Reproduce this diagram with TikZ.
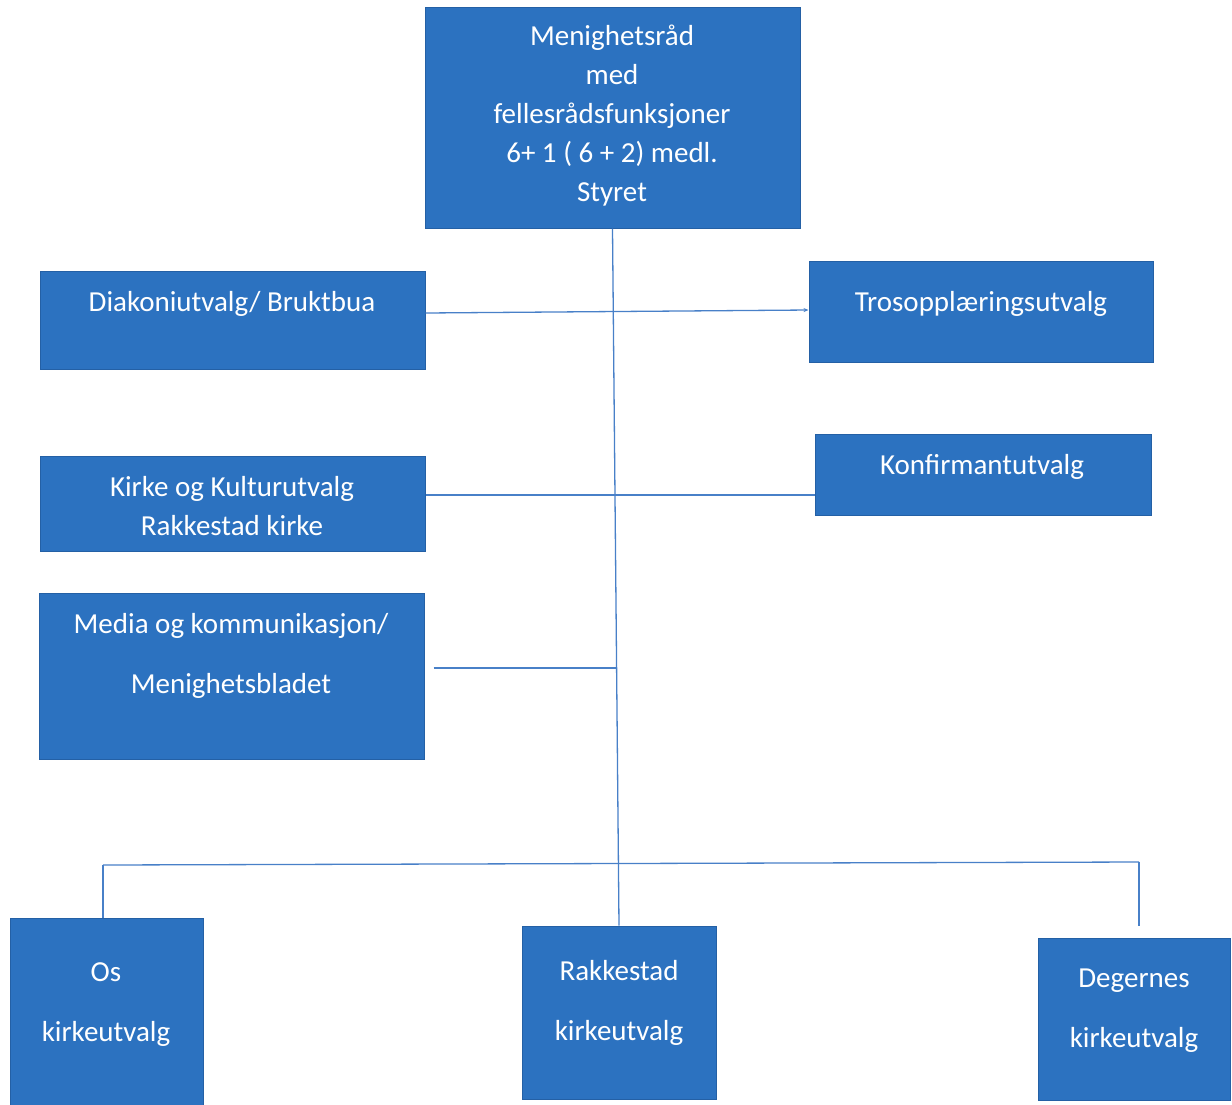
\documentclass[tikz,border=0pt]{standalone}
\usepackage{fontspec}
\setmainfont{Carlito}
\usetikzlibrary{arrows.meta}
\definecolor{boxblue}{RGB}{44,114,192}
\definecolor{boxedge}{RGB}{36,96,165}
\definecolor{linkblue}{RGB}{72,128,200}
\begin{document}
\begin{tikzpicture}[x=1pt,y=-1pt,
  box/.style={draw=boxedge,line width=1pt,fill=boxblue,rectangle,inner sep=0pt},
  txt/.style={text=white,align=center,inner sep=0pt,font=\fontsize{29}{39}\selectfont},
  txtwide/.style={text=white,align=center,inner sep=0pt,font=\fontsize{29}{60}\selectfont},
  conn/.style={draw=linkblue,line width=1.3pt}]
\useasboundingbox (0,0) rectangle (1232,1104);
% boxes
\node[box,minimum width=375,minimum height=221] (top) at (612.5,117.5) {};
\node[box,minimum width=385,minimum height=98] (diak) at (232.5,320) {};
\node[box,minimum width=344,minimum height=101] (tros) at (981,311.5) {};
\node[box,minimum width=385,minimum height=95] (kirke) at (232.5,503.5) {};
\node[box,minimum width=336,minimum height=81] (konf) at (983,474.5) {};
\node[box,minimum width=385,minimum height=166] (media) at (231.5,676) {};
\node[box,minimum width=193,minimum height=212] (os) at (106.5,1024) {};
\node[box,minimum width=194,minimum height=173] (rakk) at (619,1012.5) {};
\node[box,minimum width=192,minimum height=162] (deg) at (1134,1019) {};
% texts
\node[txt] (toptxt) at (612,116) {Menighetsråd\\med\\fellesrådsfunksjoner\\6+ 1 ( 6 + 2) medl.\\Styret};
\node[txt] (diaktxt) at (232,304) {Diakoniutvalg/ Bruktbua};
\node[txt] (trostxt) at (981,304) {Trosopplæringsutvalg};
\node[txt] (kirketxt) at (232,506) {Kirke og Kulturutvalg\\Rakkestad kirke};
\node[txt] (konftxt) at (982,467) {Konfirmantutvalg};
\node[txtwide] (mediatxt) at (231,656) {Media og kommunikasjon/\\Menighetsbladet};
\node[txtwide] (ostxt) at (106,1005) {Os\\kirkeutvalg};
\node[txtwide] (rakktxt) at (619,1003) {Rakkestad\\kirkeutvalg};
\node[txtwide] (degtxt) at (1134,1011) {Degernes\\kirkeutvalg};
% junction coordinates
\coordinate (mj) at (616,668);
\coordinate (bl) at (103,865);
\coordinate (br) at (1139,862);
\coordinate (dtop) at (1139,926);
% connectors
\draw[conn] (top.south) -- (rakk.north);
\draw[conn,-{Stealth[length=5pt,width=4pt]}] ([yshift=7pt]diak.east) -- ([yshift=1.5pt]tros.west);
\draw[conn] ([yshift=8.5pt]kirke.east) -- ([yshift=8.5pt]kirke.east -| konf.west);
\draw[conn] ([xshift=9pt,yshift=8pt]media.east) -- (mj);
\draw[conn] (bl) -- (br);
\draw[conn] (bl) -- (bl |- os.north);
\draw[conn] (br) -- (dtop);
\end{tikzpicture}
\end{document}
